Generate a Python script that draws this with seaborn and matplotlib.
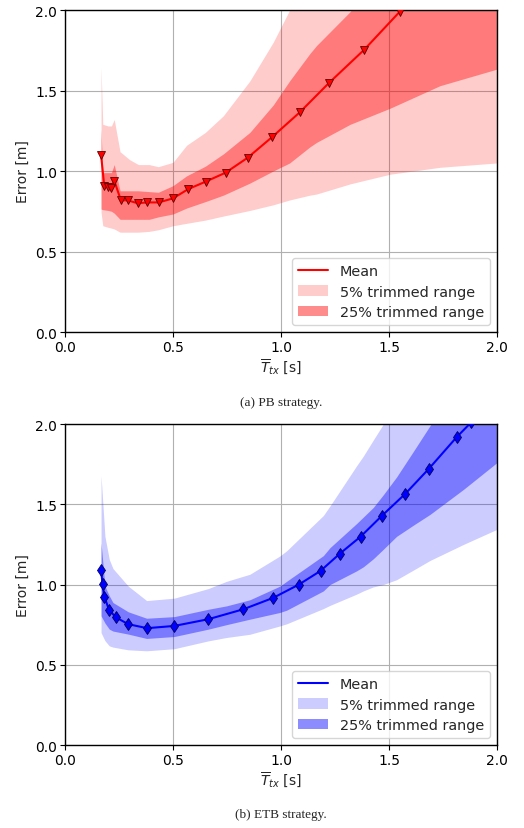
import numpy as np
import pandas as pd
import matplotlib
matplotlib.use("Agg")
import matplotlib.pyplot as plt
import seaborn as sns
from matplotlib.patches import Patch
from matplotlib.lines import Line2D

# ---------------- PB strategy data ----------------
pb_x = [0.167, 0.182, 0.197, 0.213, 0.228, 0.259, 0.290, 0.336, 0.380, 0.434,
        0.500, 0.571, 0.651, 0.744, 0.846, 0.958, 1.088, 1.222, 1.384, 1.550, 1.62]
pb_mean = [1.10, 0.905, 0.90, 0.894, 0.94, 0.818, 0.818, 0.80, 0.805, 0.805,
           0.83, 0.888, 0.934, 0.99, 1.083, 1.21, 1.366, 1.547, 1.752, 1.99, 2.08]

pb_band_x = [0.167, 0.175, 0.200, 0.215, 0.228, 0.255, 0.30, 0.34, 0.39, 0.432,
             0.50, 0.563, 0.65, 0.733, 0.856, 0.964, 1.04, 1.134, 1.165, 1.32,
             1.505, 1.736, 2.0]
pb_lo5 = [0.743, 0.66, 0.65, 0.645, 0.64, 0.62, 0.62, 0.62, 0.625, 0.635,
          0.66, 0.675, 0.695, 0.72, 0.755, 0.79, 0.82, 0.85, 0.857, 0.92,
          0.98, 1.023, 1.05]
pb_hi5 = [1.648, 1.29, 1.28, 1.28, 1.32, 1.12, 1.07, 1.04, 1.04, 1.027,
          1.054, 1.16, 1.24, 1.343, 1.56, 1.80, 2.0, 2.2, 2.25, 2.5,
          2.8, 3.1, 3.4]
pb_lo25 = [0.764, 0.76, 0.755, 0.75, 0.738, 0.70, 0.70, 0.70, 0.70, 0.715,
           0.733, 0.77, 0.81, 0.85, 0.925, 1.0, 1.05, 1.15, 1.178, 1.29,
           1.39, 1.53, 1.633]
pb_hi25 = [1.26, 0.99, 0.99, 0.99, 1.04, 0.877, 0.877, 0.877, 0.872, 0.868,
           0.909, 0.97, 1.03, 1.106, 1.24, 1.41, 1.56, 1.73, 1.78, 1.99,
           2.3, 2.6, 2.9]

# ---------------- ETB strategy data ----------------
etb_x = [0.167, 0.174, 0.182, 0.204, 0.236, 0.293, 0.380, 0.506, 0.664, 0.826,
         0.964, 1.083, 1.183, 1.273, 1.369, 1.466, 1.576, 1.685, 1.813, 1.88]
etb_mean = [1.091, 1.002, 0.925, 0.842, 0.795, 0.753, 0.728, 0.742, 0.784, 0.846,
            0.917, 1.00, 1.085, 1.193, 1.299, 1.427, 1.566, 1.722, 1.918, 2.01]

etb_band_x = [0.167, 0.185, 0.205, 0.222, 0.293, 0.378, 0.506, 0.664, 0.748,
              0.856, 0.995, 1.026, 1.196, 1.227, 1.35, 1.381, 1.427, 1.474,
              1.535, 1.613, 1.69, 1.845, 2.0]
etb_lo5 = [0.70, 0.65, 0.618, 0.61, 0.593, 0.587, 0.60, 0.649, 0.67,
           0.69, 0.742, 0.755, 0.85, 0.87, 0.94, 0.96, 0.985, 1.0,
           1.03, 1.09, 1.15, 1.25, 1.344]
etb_hi5 = [1.68, 1.30, 1.157, 1.10, 0.99, 0.90, 0.915, 0.975, 1.02,
           1.064, 1.178, 1.21, 1.43, 1.49, 1.74, 1.80, 1.90, 2.0,
           2.12, 2.3, 2.45, 2.8, 3.1]
etb_lo25 = [0.805, 0.76, 0.722, 0.71, 0.691, 0.664, 0.676, 0.722, 0.75,
            0.784, 0.826, 0.84, 0.96, 1.0, 1.085, 1.11, 1.16, 1.22,
            1.30, 1.37, 1.437, 1.593, 1.76]
etb_hi25 = [1.26, 0.99, 0.93, 0.888, 0.83, 0.79, 0.80, 0.846, 0.867,
            0.905, 0.99, 1.02, 1.18, 1.23, 1.38, 1.42, 1.48, 1.56,
            1.67, 1.83, 1.99, 2.3, 2.6]

xticks = [0.0, 0.5, 1.0, 1.5, 2.0]
yticks = [0.0, 0.5, 1.0, 1.5, 2.0]
captions = ["(a) PB strategy.", "(b) ETB strategy."]

sns.set_style("ticks")
plt.rcParams['font.family'] = ['DejaVu Sans']

fig = plt.figure(figsize=(5.24, 8.29), dpi=100)
ax1 = fig.add_axes([0.124, 0.5983, 0.8245, 0.3884])
ax2 = fig.add_axes([0.124, 0.1001, 0.8245, 0.3872])


def draw(ax, x, mean, bx, lo5, hi5, lo25, hi25, color, edge, marker, ms):
    ax.fill_between(bx, lo5, hi5, color=color, alpha=0.2, linewidth=0, zorder=1)
    ax.fill_between(bx, lo25, hi25, color=color, alpha=0.4, linewidth=0, zorder=2)
    df = pd.DataFrame({"x": x, "y": mean})
    sns.lineplot(data=df, x="x", y="y", ax=ax, color=color, marker=marker,
                 markersize=ms, markeredgecolor=edge,
                 markeredgewidth=0.6, linewidth=1.5, sort=False, zorder=3)
    ax.set_xlim(0, 2)
    ax.set_ylim(0, 2)
    ax.set_xticks(xticks)
    ax.set_yticks(yticks)
    ax.set_xticklabels([f"{v:.1f}" for v in xticks], fontsize=10)
    ax.set_yticklabels([f"{v:.1f}" for v in yticks], fontsize=10)
    ax.grid(True, color="#b0b0b0", linewidth=0.8, zorder=0)
    ax.set_axisbelow(True)
    ax.set_xlabel(r"$\overline{T}_{tx}$ [s]", fontsize=10, labelpad=2)
    ax.set_ylabel("Error [m]", fontsize=10)
    for s in ax.spines.values():
        s.set_color("black")
        s.set_linewidth(1.0)
    ax.tick_params(direction="out", length=3.5, width=0.8, colors="black", pad=2)
    handles = [Line2D([0], [0], color=color, linewidth=1.5),
               Patch(facecolor=color, alpha=0.2, edgecolor="none"),
               Patch(facecolor=color, alpha=0.45, edgecolor="none")]
    ax.legend(handles, ["Mean", "5% trimmed range", "25% trimmed range"],
              loc="lower right", fontsize=10.4, frameon=True, framealpha=0.8,
              handlelength=2.1, borderpad=0.4, labelspacing=0.45)


draw(ax1, pb_x, pb_mean, pb_band_x, pb_lo5, pb_hi5, pb_lo25, pb_hi25,
     "red", "#600000", "v", 6)
draw(ax2, etb_x, etb_mean, etb_band_x, etb_lo5, etb_hi5, etb_lo25, etb_hi25,
     "blue", "#000060", "d", 6)

fig.text(281 / 524, 1 - 403 / 829, captions[0], ha="center", va="center",
         fontsize=9.5, family="Liberation Serif")
fig.text(281 / 524, 1 - 815 / 829, captions[1], ha="center", va="center",
         fontsize=9.5, family="Liberation Serif")

fig.savefig("out.png", dpi=100)
